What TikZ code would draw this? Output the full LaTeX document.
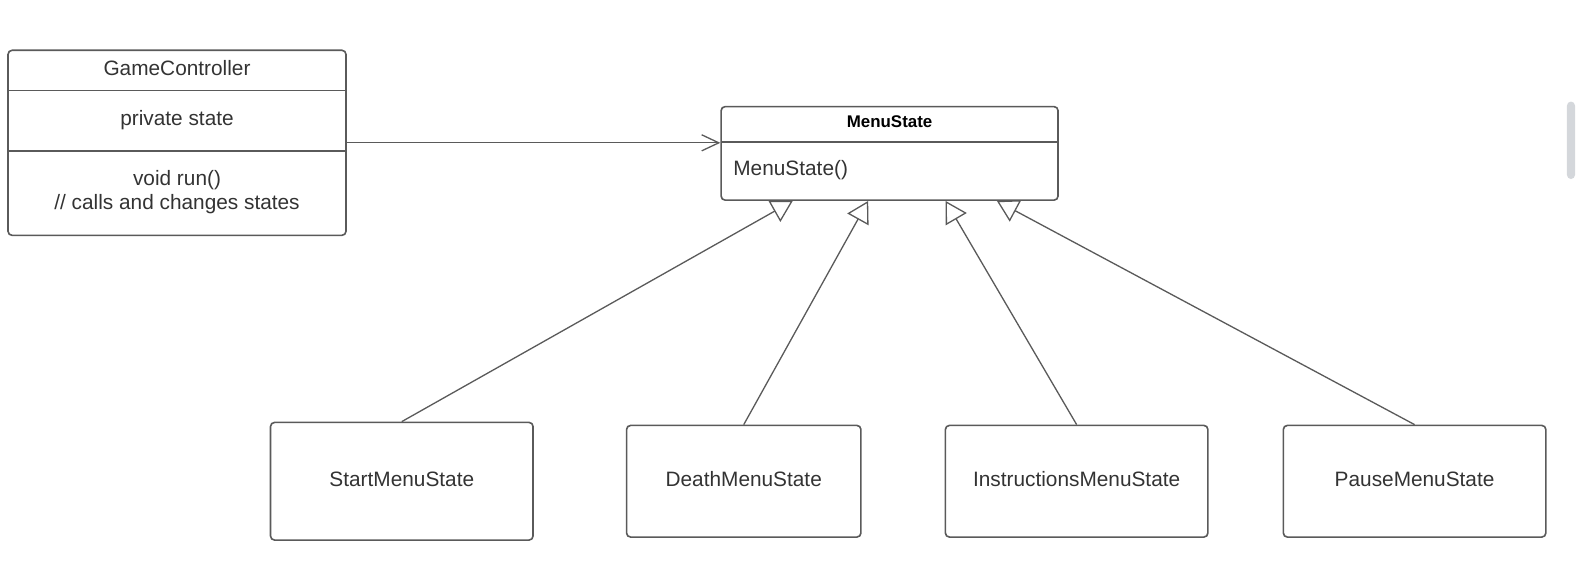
\documentclass[tikz,border=0pt]{standalone}
\usepackage{fontspec}
\setmainfont{Liberation Sans}
\usetikzlibrary{arrows.meta}
\definecolor{umlline}{HTML}{5A5A5A}
\definecolor{umltext}{HTML}{333333}
\definecolor{scrollgray}{HTML}{D4D7DB}

\begin{document}
\begin{tikzpicture}[x=1pt, y=-1pt,
  classbox/.style={draw=umlline, line width=1.6pt, rounded corners=4pt, fill=white, inner sep=0pt, text=umltext, font=\fontsize{20.7}{24}\selectfont, text depth=4pt},
  umltxt/.style={text=umltext, font=\fontsize{20.7}{24}\selectfont, inner sep=0pt},
  divider/.style={draw=umlline, line width=1.6pt},
  inherit/.style={draw=umlline, line width=1.3pt, -{Triangle[open, length=21pt, width=24pt]}},
  assoc/.style={draw=umlline, line width=1.3pt, -{Straight Barb[length=17pt, width=16pt]}}]
\useasboundingbox (0,0) rectangle (1568,577);

% game controller
\node[classbox, minimum width=336pt, minimum height=184pt] (gc) at (176,142) {};
\draw[divider] (8,90) -- (344,90);
\draw[divider] (8,150) -- (344,150);
\node[umltxt, anchor=base] (gctitle) at (176,75) {GameController};
\node[umltxt, anchor=base] (gcattr) at (176,125) {private state};
\node[umltxt, anchor=base] (gcop1) at (176,184) {void run()};
\node[umltxt, anchor=base] (gcop2) at (176,208) {// calls and changes states};

% menu state
\node[classbox, minimum width=335pt, minimum height=93pt] (ms) at (884.5,152.5) {};
\draw[divider] (717,141) -- (1052,141);
\node[umltxt, anchor=base, font=\bfseries\fontsize{16.8}{20}\selectfont, text=black] (mstitle) at (884.5,127) {MenuState};
\node[umltxt, anchor=base west] (msop) at (729,174.5) {MenuState()};

% subclasses
\node[classbox, minimum width=261pt, minimum height=117pt] (start) at (399.5,478.5) {StartMenuState};
\node[classbox, minimum width=233pt, minimum height=111pt] (death) at (739.5,478.5) {DeathMenuState};
\node[classbox, minimum width=261pt, minimum height=111pt] (instr) at (1070.5,478.5) {InstructionsMenuState};
\node[classbox, minimum width=261pt, minimum height=111pt] (pause) at (1406.5,478.5) {PauseMenuState};

% connectors
\draw[assoc] (gc.east) -- (gc.east -| ms.west);
\draw[inherit] (start.north) -- ([xshift=72pt]ms.south west);
\draw[inherit] (death.north) -- ([xshift=147pt]ms.south west);
\draw[inherit] (instr.north) -- ([xshift=224pt]ms.south west);
\draw[inherit] (pause.north) -- ([xshift=275pt]ms.south west);

% scroll bar
\fill[scrollgray, rounded corners=4pt] (1558,101) rectangle (1566,178);
\end{tikzpicture}
\end{document}
